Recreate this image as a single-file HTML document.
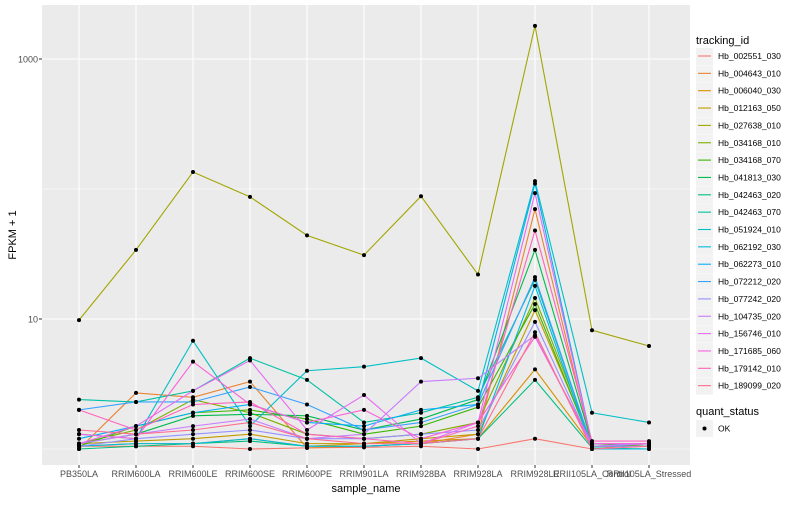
<!DOCTYPE html>
<html><head><meta charset="utf-8"><style>
body{margin:0;background:#fff;font-family:"Liberation Sans",sans-serif}
svg text{font-family:"Liberation Sans",sans-serif}
</style></head><body>
<svg id="c" width="800" height="500" xmlns="http://www.w3.org/2000/svg"></svg>
<script>
const categories=["PB350LA","RRIM600LA","RRIM600LE","RRIM600SE","RRIM600PE","RRIM901LA","RRIM928BA","RRIM928LA","RRIM928LE","RRII105LA_Control","RRII105LA_Stressed"];
const seriesNames=["Hb_002551_030","Hb_004643_010","Hb_006040_030","Hb_012163_050","Hb_027638_010","Hb_034168_010","Hb_034168_070","Hb_041813_030","Hb_042463_020","Hb_042463_070","Hb_051924_010","Hb_062192_030","Hb_062273_010","Hb_072212_020","Hb_077242_020","Hb_104735_020","Hb_156746_010","Hb_171685_060","Hb_179142_010","Hb_189099_020"];
const seriesColors=["#F8766D","#EA8331","#D89000","#C09B00","#A3A500","#7CAE00","#39B600","#00BB4E","#00BF7D","#00C1A3","#00BFC4","#00BAE0","#00B0F6","#35A2FF","#9590FF","#C77CFF","#E76BF3","#FA62DB","#FF62BC","#FF6C91"];
const s1=[1.05,1.05,1.05,1.0,1.02,1.03,1.05,1.0,1.2,1.0,1.1];
const s2=[1.0,2.7,2.5,3.3,1.02,1.05,1.1,1.3,70,1.05,1.1];
const s3=[1.05,1.1,1.1,1.2,1.05,1.1,1.15,1.2,4.1,1.05,1.05];
const s4=[1.1,1.15,1.2,1.3,1.1,1.1,1.2,1.3,11.7,1.1,1.1];
const s5=[9.8,34,135,87,44,31,88,22,1800,8.2,6.2];
const s6=[1.1,1.4,2.4,1.9,1.3,1.2,1.3,1.6,14.5,1.1,1.05];
const s7=[1.05,1.5,1.9,2.0,1.7,1.3,1.5,2.1,13,1.05,1.05];
const s8=[1.1,1.3,1.8,1.85,1.8,1.4,1.7,2.4,34,1.1,1.1];
const s9=[1.0,1.05,1.1,1.15,1.05,1.05,1.1,1.2,3.4,1.02,1.0];
const s10=[2.4,2.3,2.8,5.0,3.4,1.6,1.9,2.5,20,1.05,1.05];
const s11=[1.3,1.2,6.8,1.5,4.0,4.3,5.0,2.8,115,1.9,1.6];
const s12=[1.05,1.1,1.1,1.2,1.05,1.05,1.1,1.2,18,1.0,1.0];
const s13=[1.2,1.5,1.9,2.2,1.6,1.5,2.0,2.2,110,1.1,1.1];
const s14=[2.0,2.3,2.3,3.0,2.2,1.4,1.6,2.2,21,1.05,1.1];
const s15=[1.05,1.2,1.3,1.4,1.2,1.2,1.3,1.4,9.5,1.05,1.05];
const s16=[1.1,1.3,1.5,1.7,1.2,1.3,3.3,3.5,7.5,1.05,1.1];
const s17=[1.1,1.5,2.8,4.8,1.4,2.6,1.1,1.6,93,1.1,1.1];
const s18=[1.3,1.2,4.7,2.2,1.6,2.0,1.2,1.6,7.3,1.1,1.1];
const s19=[2.0,1.4,2.2,2.3,1.3,1.2,1.1,1.5,48,1.15,1.15];
const s20=[1.4,1.3,1.4,1.6,1.2,1.1,1.1,1.2,7.9,1.0,1.05];
const seriesValues=[s1,s2,s3,s4,s5,s6,s7,s8,s9,s10,s11,s12,s13,s14,s15,s16,s17,s18,s19,s20];
const majorTicks=[10,1000];
const majorLabels=["10","1000"];
const minorTicks=[1,100];

const NS="http://www.w3.org/2000/svg";
const svg=document.getElementById("c");
function el(t,a,p){const e=document.createElementNS(NS,t);for(const k in a)e.setAttribute(k,a[k]);(p||svg).appendChild(e);return e;}
const PX0=42,PX1=690,PY0=5,PY1=465;
function xs(i){return 79+i*57;}
function ys(v){return 449-130*Math.log10(v);}

const bg=el("rect",{x:PX0,y:PY0,width:PX1-PX0,height:PY1-PY0,fill:"#EBEBEB"});


minorTicks.forEach(v=>{const l=el("line",{x1:PX0,x2:PX1,y1:ys(v),y2:ys(v),stroke:"#fff","stroke-width":0.55});

});
majorTicks.forEach((v,i)=>{const l=el("line",{x1:PX0,x2:PX1,y1:ys(v),y2:ys(v),stroke:"#fff","stroke-width":1.1});


const t=el("text",{x:38,y:ys(v)+3.5,"text-anchor":"end","font-size":"9","fill":"#4D4D4D"});t.textContent=majorLabels[i];


el("line",{x1:39,x2:PX0,y1:ys(v),y2:ys(v),stroke:"#333","stroke-width":1});});
categories.forEach((c,i)=>{const l=el("line",{x1:xs(i),x2:xs(i),y1:PY0,y2:PY1,stroke:"#fff","stroke-width":1.1});


el("line",{x1:xs(i),x2:xs(i),y1:PY1,y2:PY1+3,stroke:"#333","stroke-width":1});
const t=el("text",{x:xs(i),y:477,"text-anchor":"middle","font-size":"9","fill":"#4D4D4D"});t.textContent=c;

});

seriesValues.forEach((vals,si)=>{
 const p=el("polyline",{points:vals.map((v,i)=>xs(i)+","+ys(v)).join(" "),fill:"none",stroke:seriesColors[si],"stroke-width":1.1});
 
 
});
seriesValues.forEach((vals,si)=>{vals.forEach((v,i)=>{
 const c=el("circle",{cx:xs(i),cy:ys(v),r:2,fill:"#000"});
 
 
});});

let t=el("text",{x:366,y:492,"text-anchor":"middle","font-size":"11","fill":"#000"});t.textContent="sample_name";


t=el("text",{x:16,y:235,"text-anchor":"middle","font-size":"11","fill":"#000",transform:"rotate(-90 16 235)"});t.textContent="FPKM + 1";



t=el("text",{x:696,y:44,"font-size":"11","fill":"#000"});t.textContent="tracking_id";


seriesNames.forEach((n,i)=>{const y=56+i*17.35;
 const g=el("g",{});
 
 
 el("rect",{x:696,y:y-8,width:17,height:17,fill:"#F2F2F2"},g);
 el("line",{x1:698,x2:711,y1:y,y2:y,stroke:seriesColors[i],"stroke-width":1.1},g);
 const tt=el("text",{x:718,y:y+3,"font-size":"8.5","fill":"#000"},g);tt.textContent=n;});
t=el("text",{x:696,y:415,"font-size":"11","fill":"#000"});t.textContent="quant_status";


const g2=el("g",{});


el("rect",{x:696,y:420,width:17,height:17,fill:"#F2F2F2"},g2);
el("circle",{cx:704.5,cy:428.5,r:2,fill:"#000"},g2);
t=el("text",{x:718,y:431.5,"font-size":"8.5","fill":"#000"},g2);t.textContent="OK";
</script>
</body></html>
